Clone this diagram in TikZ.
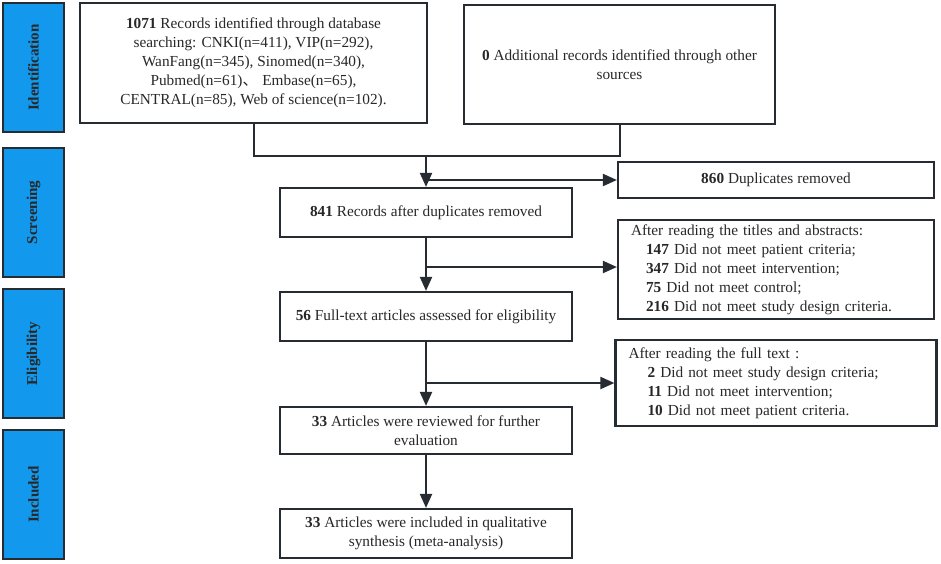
\documentclass[tikz,border=0pt]{standalone}
\usepackage{fontspec}
\setmainfont{Liberation Serif}
\newfontfamily\cjkf{Noto Sans CJK SC}
\usetikzlibrary{arrows.meta}
\definecolor{edgec}{RGB}{38,44,50}
\definecolor{phase}{RGB}{18,152,236}
\definecolor{txt}{RGB}{40,40,40}
\begin{document}
\begin{tikzpicture}[x=1pt,y=-1pt,
  box/.style={draw=edgec,line width=2.2pt,fill=white,inner sep=2pt,align=center,text=txt,font=\fontsize{15.3}{19}\selectfont},
  lbox/.style={box,align=left},
  phasebox/.style={draw=edgec,line width=2.2pt,fill=phase,minimum width=129pt,minimum height=61pt,text=txt,font=\fontsize{15}{18}\selectfont\bfseries,rotate=90},
  arr/.style={draw=edgec,line width=2pt,-{Triangle[length=14pt,width=12pt]}},
  ln/.style={draw=edgec,line width=2pt}]
\useasboundingbox (0,0) rectangle (941,563);
% phase labels
\node[phasebox] (p1) at (33.5,67.5) {Identification};
\node[phasebox] (p2) at (33.5,212.5) {Screening};
\node[phasebox] (p3) at (33.5,353.5) {Eligibility};
\node[phasebox] (p4) at (33.5,494.5) {Included};
% boxes
\node[box,minimum width=347pt,minimum height=120pt] (b1) at (253.5,63) {\textbf{1071} Records identified through database\\ searching: CNKI(n=411), VIP(n=292),\\ WanFang(n=345), Sinomed(n=340),\\ Pubmed(n=61){\cjkf 、}\hspace{0.3em}Embase(n=65),\\ CENTRAL(n=85), Web of science(n=102).};
\node[box,minimum width=311pt,minimum height=119pt] (b2) at (619.5,64.5) {\textbf{0} Additional records identified through other\\ sources};
\node[box,minimum width=316pt,minimum height=36pt] (b860) at (776,180) {\textbf{860} Duplicates removed};
\node[box,minimum width=292pt,minimum height=49pt] (b841) at (426,212.5) {\textbf{841} Records after duplicates removed};
\node[lbox,minimum width=316pt,minimum height=99pt,text width=290pt] (b147) at (776,269.5) {After reading the titles and abstracts:\\
\hspace*{15pt}\textbf{147} Did not meet patient criteria;\\
\hspace*{15pt}\textbf{347} Did not meet intervention;\\
\hspace*{15pt}\textbf{75} Did not meet control;\\
\hspace*{15pt}\textbf{216} Did not meet study design criteria.};
\node[box,minimum width=292pt,minimum height=49pt] (b56) at (426,316.5) {\textbf{56} Full-text articles assessed for eligibility};
\node[lbox,minimum width=321pt,minimum height=86pt,text width=295pt] (bft) at (776,383) {After reading the full text :\\
\hspace*{19pt}\textbf{2} Did not meet study design criteria;\\
\hspace*{19pt}\textbf{11} Did not meet intervention;\\
\hspace*{19pt}\textbf{10} Did not meet patient criteria.};
\node[box,minimum width=292pt,minimum height=47pt] (b33a) at (426,430.5) {\textbf{33} Articles were reviewed for further\\ evaluation};
\node[box,minimum width=292pt,minimum height=49pt] (b33b) at (426,533.5) {\textbf{33} Articles were included in qualitative\\ synthesis (meta-analysis)};
% connectors
\coordinate (j1) at (b1.south |- 0,156);
\coordinate (j2) at (b2.south |- 0,156);
\coordinate (jm) at (b841.north |- 0,156);
\coordinate (s1) at (b841.north |- 0,180);
\coordinate (s2) at (b841.south |- 0,267);
\coordinate (s3) at (b56.south |- 0,383);
\draw[ln] (b1.south) -- (j1) -- (j2) -- (b2.south);
\draw[arr] (jm) -- (b841.north);
\draw[arr] (s1) -- (s1 -| b860.west);
\draw[arr] (b841.south) -- (b56.north);
\draw[arr] (s2) -- (s2 -| b147.west);
\draw[arr] (b56.south) -- (b33a.north);
\draw[arr] (s3) -- (s3 -| bft.west);
\draw[arr] (b33a.south) -- (b33b.north);
\end{tikzpicture}
\end{document}
